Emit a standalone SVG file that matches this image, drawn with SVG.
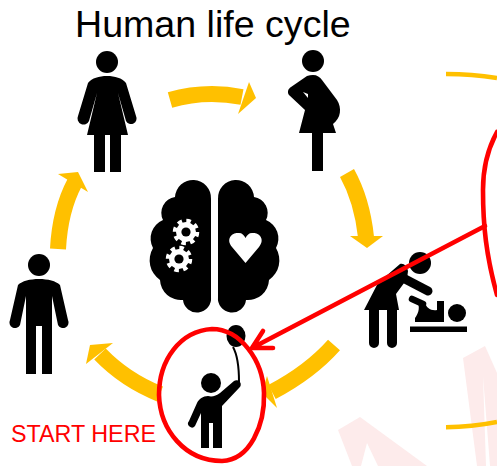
<svg xmlns="http://www.w3.org/2000/svg" xmlns:xlink="http://www.w3.org/1999/xlink" width="497" height="466" viewBox="0 0 497 466">
<style>
.fig{fill:#000}
.lim{fill:none;stroke:#000;stroke-linecap:round;stroke-linejoin:round}
.arc{fill:none;stroke:#FFC000;stroke-width:16}
.head{fill:#FFC000}
.thin{fill:none;stroke:#FFC000;stroke-width:4.5}
.red{fill:none;stroke:#FF0000;stroke-width:4.600;stroke-linecap:round;stroke-linejoin:round}
.wm{fill:#FDEBEB}
text{font-family:"Liberation Sans",Arial,sans-serif}
</style>
<defs>
<path id="half" d="M211 199A18 18 0 0 0 175 197A16 16 0 0 0 163 220A20 20 0 0 0 153 248A24 24 0 0 0 160 280A21 21 0 0 0 183 300A14 14 0 0 0 211 297Z"/>
<g id="gear"><circle r="11" fill="none" stroke="#fff" stroke-width="4.5" stroke-dasharray="4.4 4.24"/><circle r="10" fill="#fff"/><circle r="4.6" fill="#000"/></g>
</defs>
<rect width="497" height="466" fill="#fff"/>
<g id="watermark">
<path class="wm" d="M338 430L360 417L427 466H378L367 443L361 466H352Z"/>
<path class="wm" d="M463 358L485 346L497 373V466H490L483 376L486 466H477Z"/>
</g>
<text id="title" x="75" y="37" font-size="37.6">Human life cycle</text>
<g id="connectors">
<path class="arc" d="M170 100Q205 90 242 97"/><path class="head" d="M249 82L256 98L238 114Z"/>
<path class="arc" d="M347 173Q362 200 366 237"/><path class="head" d="M350 236H383L367 248Z"/>
<path class="arc" d="M334 345Q310 372 272 392"/><path class="head" d="M267 376L277 408L262 393Z"/>
<path class="arc" d="M160 394Q125 380 100 354"/><path class="head" d="M113 343L90 345L86 364Z"/>
<path class="arc" d="M58 249Q60 210 75 182"/><path class="head" d="M58 174L78 172L88 192Z"/>
<path class="thin" d="M446 74Q472 74 497 78"/>
<path class="thin" d="M446 427.300Q472 427 497 422"/>
</g>
<g id="woman">
<circle class="fig" cx="107" cy="62" r="11"/>
<path class="fig" d="M107 76C115 76 122 78 126 83L136 116A5.500 5.500 0 0 1 126 121L118 93L128 135H121V172H110V135H105V172H94V135H87L97 93L89 121A5.500 5.500 0 0 1 78 116L88 83C92 78 99 76 107 76Z"/>
</g>
<g id="pregnant">
<circle class="fig" cx="313" cy="61" r="11"/>
<path class="fig" d="M313 75C317 75 320 77 322 80L337 100C342 108 341 118 333 124L336 133H323V171H312V133H299L305 110L289 95C287 92 288 89 291 87L307 76Q310 75 313 75Z"/>
<path d="M303 92L308 94L308 98Z" fill="#fff"/>
</g>
<g id="man">
<circle class="fig" cx="39" cy="265" r="11"/>
<path class="fig" d="M39 279C48 279 56 281 60 285L68 320A5.500 5.500 0 0 1 58 325L52 296V374H42V326H36V374H26V296L20 325A5.500 5.500 0 0 1 10 320L18 285C22 281 30 279 39 279Z"/>
</g>
<g id="brain">
<use xlink:href="#half" href="#half"/>
<use xlink:href="#half" href="#half" transform="matrix(-1 0 0 1 429 0)"/>
<use xlink:href="#gear" href="#gear" transform="translate(186 232)"/>
<use xlink:href="#gear" href="#gear" transform="translate(179 259)"/>
<path d="M245.500 263L232 247C225 238 233 232 239 233C242 233 244 235 245.500 238C247 235 249 233 252 233C258 232 266 238 259 247Z" fill="#fff"/>
</g>
<g id="caregiver">
<circle class="fig" cx="420" cy="263" r="11"/>
<path class="fig" d="M400 264C404 263 407 266 408 271L407 279L396 294L399 310H364L378 283Z"/>
<path class="lim" stroke-width="9" d="M405 279L428 291"/>
<path class="lim" stroke-width="10" d="M374 310V343M392 308V343"/>
<circle class="fig" cx="457" cy="313" r="9"/>
<path class="lim" stroke-width="6.500" d="M412 299L423 304"/>
<path class="fig" d="M418 303L425 302C426 308 431 311 437 310V301H444V322H415V318C418 314 420 309 418 303Z"/>
<rect class="fig" x="410" y="326.500" width="57" height="5.500"/>
</g>
<g id="child">
<path d="M233 347C238 356 239 368 239 382" fill="none" stroke="#000" stroke-width="2"/>
<ellipse class="fig" cx="236" cy="336" rx="9.500" ry="11"/>
<circle class="fig" cx="211" cy="383" r="10"/>
<path class="fig" d="M208 396C212 397 216 396 220 393L234 381A4 4 0 0 1 239 388L222 406V448H213V423H209V448H201V413L195 426A3.500 3.500 0 0 1 189 421L197 403C199 399 203 396 208 396Z"/>
</g>
<g id="start-label">
<text x="11" y="442" font-size="24" fill="#FF0000" textLength="145" lengthAdjust="spacingAndGlyphs">START HERE</text>
</g>
<g id="annotations">
<path class="red" d="M212 329C180 331 159 360 159 395C160 430 185 461 222 461C250 460 265 425 264 393C263 360 240 329 212 329Z"/>
<path class="red" d="M497 132C487 150 483 170 483 190C483 225 486 255 497 295"/>
<path class="red" d="M485 226L252 348M263 331L252 348L273 348"/>
</g>
</svg>
